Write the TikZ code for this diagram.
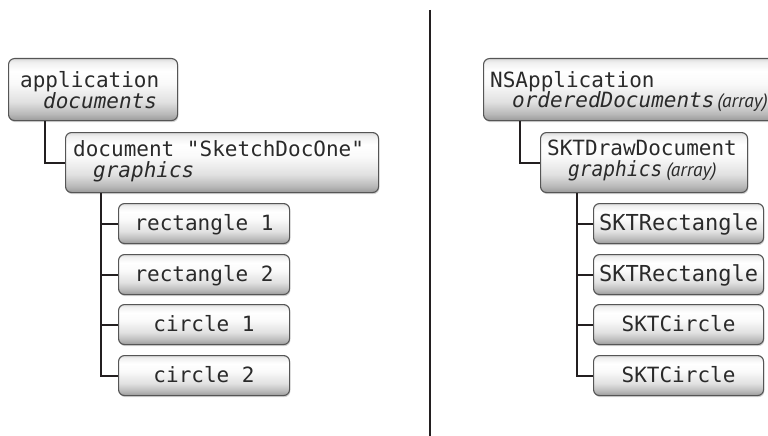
\documentclass[tikz,border=0pt]{standalone}
\usepackage{fontspec}
\setmonofont{DejaVu Sans Mono}
\newfontfamily\arrfont{PT Sans}
\usetikzlibrary{shadows}
\definecolor{ink}{HTML}{231F20}
\definecolor{txt}{HTML}{2A2A2A}
\definecolor{boxline}{HTML}{555555}
\pgfdeclareverticalshading{btnshade}{100bp}{color(0bp)=(black!40); color(25bp)=(black!40); color(30bp)=(black!28); color(40bp)=(black!12); color(55bp)=(black!2); color(65bp)=(white); color(72bp)=(black!6); color(75bp)=(black!14); color(100bp)=(black!14)}
\tikzset{
  btn/.style={draw=boxline, line width=1.1pt, rounded corners=6pt, shading=btnshade,
    anchor=north west, inner sep=0pt,
    drop shadow={shadow xshift=0.8pt, shadow yshift=-1.6pt, opacity=0.35}},
  mono/.style={inner sep=0pt, text=txt, font=\ttfamily\fontsize{21}{21}\selectfont},
  lbl/.style={mono, anchor=base west},
  ilbl/.style={lbl, font=\ttfamily\itshape\fontsize{21}{21}\selectfont},
  clbl/.style={mono, anchor=base},
  wire/.style={draw=ink, line width=2pt},
}
\newcommand{\arr}{{\arrfont\itshape\fontsize{19.5}{19.5}\selectfont(array)}}
\begin{document}
\begin{tikzpicture}[x=1pt,y=-1pt]
\useasboundingbox (0,0) rectangle (768,436);
\clip (0,0) rectangle (768,436);
% left tree
\node[btn, minimum width=169pt, minimum height=62pt] (app) at (8,58) {};
\node[lbl] (tapp) at (20,87) {application};
\node[ilbl] (tdocs) at (43,108) {documents};
\node[btn, minimum width=313pt, minimum height=60pt] (doc) at (65,132) {};
\node[lbl] (tdoc) at (73,156) {document "SketchDocOne"};
\node[ilbl] (tgr) at (93,177) {graphics};
\node[btn, minimum width=171pt, minimum height=40pt] (c1) at (118,203) {};
\node[btn, minimum width=171pt, minimum height=40pt] (c2) at (118,254) {};
\node[btn, minimum width=171pt, minimum height=40pt] (c3) at (118,304) {};
\node[btn, minimum width=171pt, minimum height=40pt] (c4) at (118,355) {};
\node[clbl] (tc1) at ([yshift=-7pt]c1.center) {rectangle 1};
\node[clbl] (tc2) at ([yshift=-7pt]c2.center) {rectangle 2};
\node[clbl] (tc3) at ([yshift=-7pt]c3.center) {circle 1};
\node[clbl] (tc4) at ([yshift=-7pt]c4.center) {circle 2};
\draw[wire] ([xshift=37pt]app.south west) |- (doc.west);
\foreach \c in {c1,c2,c3,c4} \draw[wire] ([xshift=36pt]doc.south west) |- (\c.west);
% divider
\coordinate (dtop) at (430,10);
\coordinate (dbot) at (430,436);
\draw[wire, line width=2.2pt] (dtop) -- (dbot);
% right tree
\node[btn, minimum width=300pt, minimum height=62pt] (nsa) at (483,58) {};
\node[lbl] (tnsa) at (490,87) {NSApplication};
\node[ilbl] (tord) at (512,107) {orderedDocuments\kern3pt\arr};
\node[btn, minimum width=207pt, minimum height=60pt] (skd) at (540,132) {};
\node[lbl] (tskd) at (547,155) {SKTDrawDocument};
\node[ilbl] (tsgr) at (568,176) {\scalebox{0.93}[1]{graphics}\kern4pt\arr};
\node[btn, minimum width=170pt, minimum height=40pt] (r1) at (593,203) {};
\node[btn, minimum width=170pt, minimum height=40pt] (r2) at (593,254) {};
\node[btn, minimum width=170pt, minimum height=40pt] (r3) at (593,304) {};
\node[btn, minimum width=170pt, minimum height=40pt] (r4) at (593,355) {};
\node[clbl, font=\ttfamily\fontsize{22}{22}\selectfont] (tr1) at ([yshift=-7pt]r1.center) {SKTRectangle};
\node[clbl, font=\ttfamily\fontsize{22}{22}\selectfont] (tr2) at ([yshift=-7pt]r2.center) {SKTRectangle};
\node[clbl] (tr3) at ([yshift=-7pt]r3.center) {SKTCircle};
\node[clbl] (tr4) at ([yshift=-7pt]r4.center) {SKTCircle};
\draw[wire] ([xshift=37pt]nsa.south west) |- (skd.west);
\foreach \c in {r1,r2,r3,r4} \draw[wire] ([xshift=37pt]skd.south west) |- (\c.west);
\end{tikzpicture}
\end{document}
